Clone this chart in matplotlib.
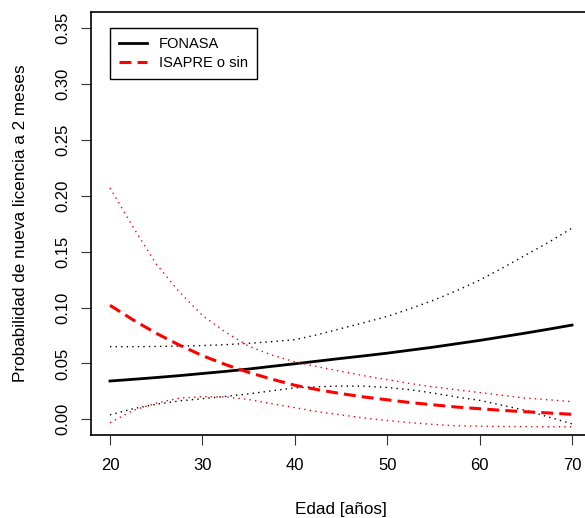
import matplotlib

matplotlib.use("Agg")
import matplotlib.pyplot
import numpy

# edad [años]
EDAD = [20, 22.5, 25, 27.5, 30, 32.5, 35, 37.5, 40, 42.5, 45,
        47.5, 50, 52.5, 55, 57.5, 60, 62.5, 65, 67.5, 70]

# FONASA: estimación y banda de confianza
FONASA = [0.0343, 0.0358, 0.0374, 0.0391, 0.041, 0.0429, 0.045, 0.0474, 0.0497, 0.0521, 0.0545,
          0.0568, 0.0592, 0.0619, 0.0646, 0.0676, 0.0706, 0.0739, 0.0772, 0.0807, 0.0843]
FONASA_HI = [0.065, 0.065, 0.0652, 0.0655, 0.066, 0.0668, 0.068, 0.0695, 0.0712, 0.0758, 0.0812,
             0.0865, 0.092, 0.099, 0.1065, 0.115, 0.1245, 0.1355, 0.147, 0.1585, 0.171]
FONASA_LO = [0.004, 0.0095, 0.0135, 0.0165, 0.0185, 0.0205, 0.0228, 0.0255, 0.0282, 0.0292, 0.0298,
             0.0297, 0.0285, 0.0265, 0.0235, 0.020, 0.017, 0.0125, 0.008, 0.002, -0.004]

# ISAPRE o sin previsión
ISAPRE = [0.102, 0.089, 0.077, 0.0665, 0.057, 0.049, 0.042, 0.036, 0.0305, 0.0265, 0.023,
          0.020, 0.0175, 0.015, 0.013, 0.011, 0.0095, 0.008, 0.0068, 0.0057, 0.0045]
ISAPRE_HI = [0.207, 0.172, 0.139, 0.114, 0.093, 0.078, 0.0655, 0.0575, 0.0515, 0.047, 0.043,
             0.039, 0.0355, 0.032, 0.029, 0.0265, 0.024, 0.0215, 0.019, 0.0175, 0.0158]
ISAPRE_LO = [-0.003, 0.008, 0.0145, 0.019, 0.0203, 0.020, 0.0178, 0.014, 0.0105, 0.0068, 0.004,
             0.0012, -0.001, -0.003, -0.0045, -0.0058, -0.006, -0.0064, -0.0065, -0.0066, -0.0066]

XTICKS = [20, 30, 40, 50, 60, 70]
YTICKS = [0.00, 0.05, 0.10, 0.15, 0.20, 0.25, 0.30, 0.35]

DOTS = (0, (1, 3))
DASHES = (0, (3.9, 2.0))


def make_plot():
    fig = matplotlib.pyplot.figure(figsize=(5.85, 5.18), dpi=100)
    # the original R device was a bit wider than the saved crop
    ax = fig.add_axes([0.1564, 0.1602, 0.853, 0.816])

    ax.plot(EDAD, FONASA, color="black", linewidth=2.0, label="FONASA")
    ax.plot(EDAD, FONASA_HI, color="black", linewidth=1.0, linestyle=DOTS)
    ax.plot(EDAD, FONASA_LO, color="black", linewidth=1.0, linestyle=DOTS)

    ax.plot(EDAD, ISAPRE, color="#ff0000", linewidth=2.2, linestyle=DASHES,
            label="ISAPRE o sin")
    ax.plot(EDAD, ISAPRE_HI, color="#ff0000", linewidth=1.0, linestyle=DOTS)
    ax.plot(EDAD, ISAPRE_LO, color="#ff0000", linewidth=1.0, linestyle=DOTS)

    ax.set_xlim(18, 72)
    ax.set_ylim(-0.014, 0.364)
    ax.set_xticks(XTICKS)
    ax.set_xticklabels([str(t) for t in XTICKS])
    ax.set_yticks(YTICKS)
    ax.set_yticklabels([f"{t:.2f}" for t in YTICKS], rotation=90, va="center")

    ax.tick_params(axis="both", direction="out", length=7.5, width=0.8,
                   labelsize=12, color="#333333")
    ax.tick_params(axis="x", pad=9)
    ax.tick_params(axis="y", pad=8)

    for s in ax.spines.values():
        s.set_linewidth(1.2)

    ax.set_xlabel("Edad [años]", fontsize=12.3)
    ax.xaxis.set_label_coords(0.5, -0.158)
    ax.set_ylabel("Probabilidad de nueva licencia a 2 meses", fontsize=12.3)
    ax.yaxis.set_label_coords(-0.127, 0.5)

    leg = ax.legend(
        loc="upper left",
        bbox_to_anchor=(0.037, 0.963),
        borderaxespad=0,
        fontsize=10.5,
        frameon=True,
        fancybox=False,
        framealpha=1,
        edgecolor="black",
        borderpad=0.65,
        handlelength=1.9,
        handletextpad=0.8,
        labelspacing=0.3,
    )
    leg.get_frame().set_linewidth(1.0)

    fig.savefig("out.png", dpi=100)


if __name__ == "__main__":
    matplotlib.rcParams.update(
        {
            "font.family": ["Liberation Sans", "DejaVu Sans"],
        }
    )
    make_plot()
